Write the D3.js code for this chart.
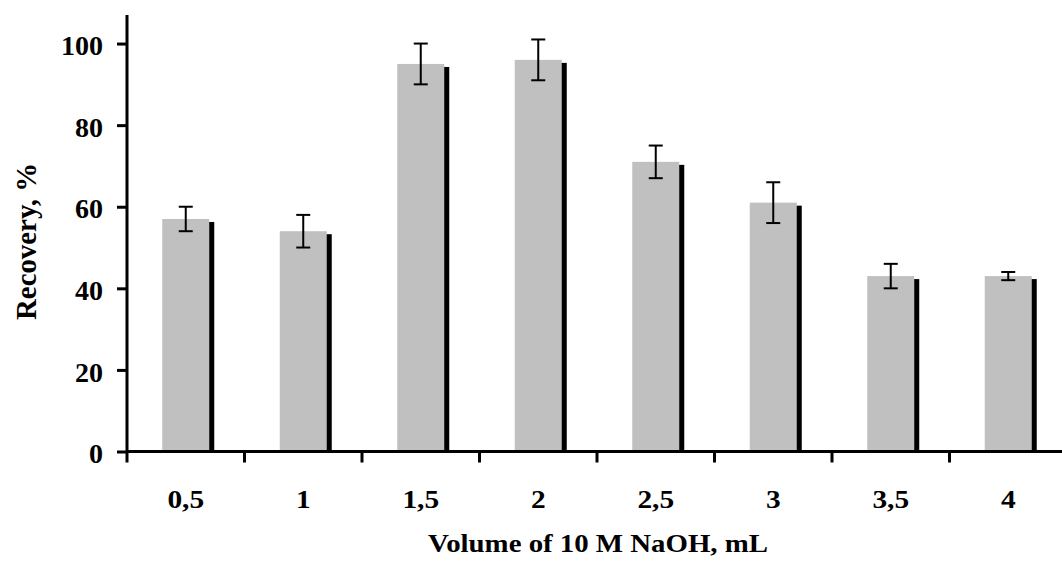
<!DOCTYPE html>
<html><head><meta charset="utf-8">
<script src="https://cdn.jsdelivr.net/npm/d3@7"></script>
<style>body{margin:0;background:#fff}svg{display:block}</style>
</head><body>
<svg id="c" width="1062" height="563"></svg>
<script>
const categories = ["0,5","1","1,5","2","2,5","3","3,5","4"];
const recovery = [57, 54, 95, 96, 71, 61, 43, 43];
const errors = [3, 4, 5, 5, 4, 5, 3, 1];
const yTicks = [0, 20, 40, 60, 80, 100];

const svg = d3.select("#c");
const font = "'Liberation Serif','Times New Roman',serif";
const x = d3.scaleBand().domain(categories).range([127, 1067]).paddingInner(0).paddingOuter(0);
const y = d3.scaleLinear().domain([0, 107]).range([451.5, 15]);
const barW = 47;

const data = categories.map((c,i)=>({c, v:recovery[i], e:errors[i]}));

// shadows
svg.append("g").selectAll("rect").data(data).join("rect")
  .attr("x", d=>x(d.c)+x.bandwidth()/2-barW/2+5)
  .attr("y", d=>y(d.v)+3)
  .attr("width", barW)
  .attr("height", d=>y(0)-y(d.v)-3)
  .attr("fill","#000");
// bars
svg.append("g").selectAll("rect").data(data).join("rect")
  .attr("x", d=>x(d.c)+x.bandwidth()/2-barW/2)
  .attr("y", d=>y(d.v))
  .attr("width", barW)
  .attr("height", d=>y(0)-y(d.v))
  .attr("fill","#c0c0c0");
// error bars
const eb = svg.append("g").attr("stroke","#000").attr("stroke-width",2);
data.forEach(d=>{
  const cx = x(d.c)+x.bandwidth()/2;
  eb.append("line").attr("x1",cx).attr("x2",cx).attr("y1",y(d.v+d.e)).attr("y2",y(d.v-d.e));
  eb.append("line").attr("x1",cx-7).attr("x2",cx+7).attr("y1",y(d.v+d.e)).attr("y2",y(d.v+d.e));
  eb.append("line").attr("x1",cx-7).attr("x2",cx+7).attr("y1",y(d.v-d.e)).attr("y2",y(d.v-d.e));
});

// y axis
const ya = svg.append("g").attr("transform","translate(127,0)")
  .call(d3.axisLeft(y).tickValues(yTicks).tickSize(10).tickPadding(14));
ya.select(".domain").attr("d", `M0,${y(0)}V15`).attr("stroke-width",3);
ya.selectAll(".tick line").attr("stroke-width",3);
ya.selectAll(".tick text").attr("font-family",font).attr("font-weight","bold")
  .attr("font-size",28).attr("x",-24).attr("dy","0.4em");

// x axis
const xa = svg.append("g").attr("transform",`translate(0,${y(0)})`)
  .call(d3.axisBottom(x).tickSize(0));
xa.select(".domain").attr("d","M127,0H1062").attr("stroke-width",3);
xa.selectAll(".tick text").attr("font-family",font).attr("font-weight","bold").attr("font-size",24.5)
  .attr("y",57).attr("dy",0).attr("transform","scale(1.2,1)");
// boundary ticks
const bounds = categories.map(c=>x(c));
xa.append("g").selectAll("line").data(bounds).join("line")
  .attr("x1",d=>d).attr("x2",d=>d).attr("y1",0).attr("y2",11)
  .attr("stroke","#000").attr("stroke-width",3);

// titles
svg.append("text").attr("x",428).attr("y",551.5)
  .attr("font-family",font).attr("font-weight","bold").attr("font-size",25)
  .attr("textLength",340).attr("lengthAdjust","spacingAndGlyphs")
  .text("Volume of 10 M NaOH, mL");
svg.append("text").attr("transform","translate(36,320) rotate(-90) scale(1,1.2)")
  .attr("font-family",font).attr("font-weight","bold").attr("font-size",25)
  .attr("textLength",157).attr("lengthAdjust","spacingAndGlyphs")
  .text("Recovery, %");
</script>
</body></html>
